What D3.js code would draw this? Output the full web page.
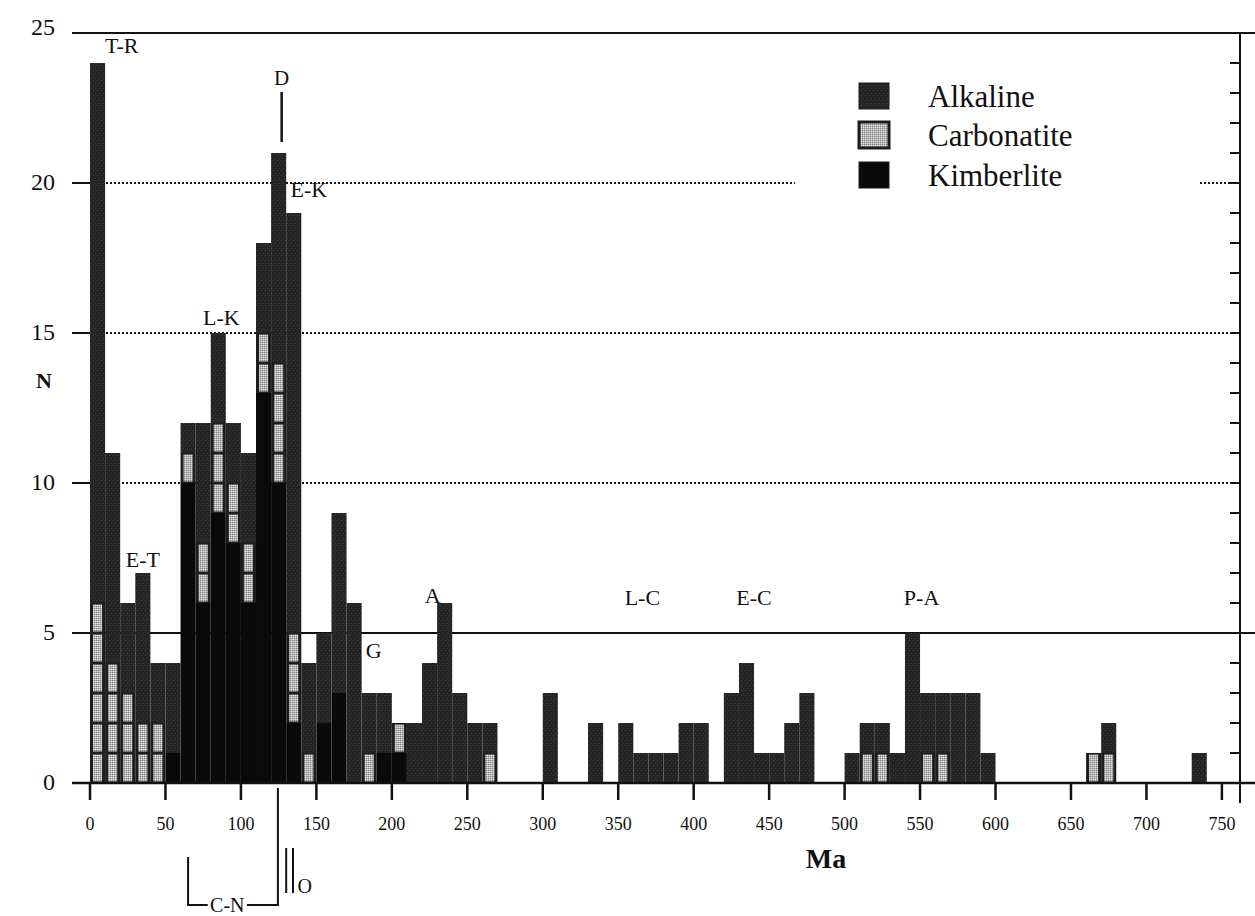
<!DOCTYPE html>
<html>
<head>
<meta charset="utf-8">
<script src="https://cdn.jsdelivr.net/npm/d3@7"></script>
<style>
  html, body { margin: 0; padding: 0; background: #fff; }
  svg { display: block; font-family: "Liberation Serif", "DejaVu Serif", serif; }
</style>
</head>
<body>
<div id="chart"></div>
<script>
// Bins of 10 Ma, from 0 to 740 (value = start of bin)
const binStarts = d3.range(0, 750, 10);

// Counts per bin (10 values per 100 Ma)
const kimberlite = [
  0, 0, 0, 0, 0, 1, 10, 6, 9, 8,
  6, 13, 10, 2, 0, 2, 3, 0, 0, 1,
  1, 0, 0, 0, 0, 0, 0, 0, 0, 0,
  0, 0, 0, 0, 0, 0, 0, 0, 0, 0,
  0, 0, 0, 0, 0, 0, 0, 0, 0, 0,
  0, 0, 0, 0, 0, 0, 0, 0, 0, 0,
  0, 0, 0, 0, 0, 0, 0, 0, 0, 0,
  0, 0, 0, 0, 0
];
const carbonatite = [
  6, 4, 3, 2, 2, 0, 1, 2, 3, 2,
  2, 2, 4, 3, 1, 0, 0, 0, 1, 0,
  1, 0, 0, 0, 0, 0, 1, 0, 0, 0,
  0, 0, 0, 0, 0, 0, 0, 0, 0, 0,
  0, 0, 0, 0, 0, 0, 0, 0, 0, 0,
  0, 1, 1, 0, 0, 1, 1, 0, 0, 0,
  0, 0, 0, 0, 0, 0, 1, 1, 0, 0,
  0, 0, 0, 0, 0
];
const alkaline = [
  18, 7, 3, 5, 2, 3, 1, 4, 3, 2,
  3, 3, 7, 14, 3, 3, 6, 6, 2, 2,
  0, 2, 4, 6, 3, 2, 1, 0, 0, 0,
  3, 0, 0, 2, 0, 2, 1, 1, 1, 2,
  2, 0, 3, 4, 1, 1, 2, 3, 0, 0,
  1, 1, 1, 1, 5, 2, 2, 3, 3, 1,
  0, 0, 0, 0, 0, 0, 0, 1, 0, 0,
  0, 0, 0, 1, 0
];

const xTicks = d3.range(0, 751, 50);
const yTicks = [0, 5, 10, 15, 20, 25];
const legendItems = ['Alkaline', 'Carbonatite', 'Kimberlite'];

// Period labels: [text, Ma position of centre, N position of baseline]
const periods = [
  ['T-R', 21, 24.35],
  ['E-T', 35, 7.2],
  ['L-K', 87, 15.27],
  ['E-K', 145, 19.53],
  ['G', 188, 4.17],
  ['A', 227, 6.0],
  ['L-C', 366, 5.93],
  ['E-C', 440, 5.93],
  ['P-A', 551, 5.93]
];

const width = 1255, height = 916;
const x = d3.scaleLinear().domain([0, 762]).range([90, 1240]);
const y = d3.scaleLinear().domain([0, 25]).range([783, 33]);
const barW = x(10) - x(0);

const svg = d3.select('#chart').append('svg')
  .attr('width', width)
  .attr('height', height);

// Fill patterns (scanned grey textures)
const defs = svg.append('defs');
const alkPat = defs.append('pattern')
  .attr('id', 'alk').attr('width', 4).attr('height', 5)
  .attr('patternUnits', 'userSpaceOnUse');
alkPat.append('rect').attr('width', 4).attr('height', 5).attr('fill', '#242424');
alkPat.append('rect').attr('x', 1).attr('y', 0).attr('width', 1).attr('height', 1).attr('fill', '#444');
alkPat.append('rect').attr('x', 3).attr('y', 3).attr('width', 1).attr('height', 1).attr('fill', '#3c3c3c');

const carbPat = defs.append('pattern')
  .attr('id', 'carb').attr('width', 2).attr('height', 2)
  .attr('patternUnits', 'userSpaceOnUse');
carbPat.append('rect').attr('width', 2).attr('height', 2).attr('fill', '#b8b8b8');
carbPat.append('rect').attr('width', 1).attr('height', 1).attr('fill', '#858585');
carbPat.append('rect').attr('x', 1).attr('y', 1).attr('width', 1).attr('height', 1).attr('fill', '#dedede');

const fills = { Alkaline: 'url(#alk)', Carbonatite: 'url(#carb)', Kimberlite: '#0a0a0a' };

// Horizontal reference lines
const grid = svg.append('g');
function hline(v, x1, x2, dotted, w) {
  grid.append('line')
    .attr('x1', x1).attr('x2', x2)
    .attr('y1', y(v)).attr('y2', y(v))
    .attr('stroke', '#111')
    .attr('stroke-width', w || 2)
    .attr('stroke-dasharray', dotted ? '2,2' : null);
}
hline(25, 72, 1255, false, 2);
hline(5, 72, 1255, false, 2);
[10, 15, 20].forEach(v => {
  hline(v, 72, 90, false, 2);
  if (v === 20) {
    hline(v, 90, 795, true, 2);
    hline(v, 1200, 1240, true, 2);
  } else {
    hline(v, 90, 1240, true, 2);
  }
});

// Stacked bars
const table = binStarts.map((b, i) => ({
  bin: b,
  Kimberlite: kimberlite[i],
  Carbonatite: carbonatite[i],
  Alkaline: alkaline[i]
}));
const stack = d3.stack().keys(['Kimberlite', 'Carbonatite', 'Alkaline']);
const layers = stack(table);

const bars = svg.append('g');
layers.forEach(layer => {
  const key = layer.key;
  layer.forEach(seg => {
    if (seg[1] <= seg[0]) return;
    if (key === 'Carbonatite') {
      // light cells, one per complex, with dark outline
      bars.append('rect')
        .attr('x', x(seg.data.bin))
        .attr('y', y(seg[1]))
        .attr('width', barW)
        .attr('height', y(seg[0]) - y(seg[1]))
        .attr('fill', '#1e1e1e');
      d3.range(seg[0], seg[1]).forEach(u => {
        bars.append('rect')
          .attr('x', x(seg.data.bin) + 3)
          .attr('y', y(u + 1) + 1.5)
          .attr('width', barW - 6)
          .attr('height', y(u) - y(u + 1) - 3)
          .attr('fill', fills[key]);
      });
    } else {
      bars.append('rect')
        .attr('x', x(seg.data.bin))
        .attr('y', y(seg[1]))
        .attr('width', barW)
        .attr('height', y(seg[0]) - y(seg[1]))
        .attr('fill', fills[key]);
    }
  });
});

// Annotation labels
const ann = svg.append('g')
  .attr('font-size', 22)
  .attr('fill', '#111');
periods.forEach(p => {
  ann.append('text')
    .attr('x', x(p[1]))
    .attr('y', y(p[2]))
    .attr('text-anchor', 'middle')
    .text(p[0]);
});

// Baseline
svg.append('line')
  .attr('x1', 72).attr('x2', 1255)
  .attr('y1', y(0)).attr('y2', y(0))
  .attr('stroke', '#111').attr('stroke-width', 2.5);

// Right axis with unit ticks
svg.append('line')
  .attr('x1', 1240).attr('x2', 1240)
  .attr('y1', y(25)).attr('y2', y(0) + 20)
  .attr('stroke', '#111').attr('stroke-width', 2);
svg.append('g').selectAll('line')
  .data(d3.range(1, 25))
  .join('line')
  .attr('x1', 1230).attr('x2', 1240)
  .attr('y1', d => y(d)).attr('y2', d => y(d))
  .attr('stroke', '#111').attr('stroke-width', 2);

// X ticks and labels
const xg = svg.append('g');
xg.selectAll('line')
  .data(xTicks)
  .join('line')
  .attr('x1', d => x(d)).attr('x2', d => x(d))
  .attr('y1', y(0)).attr('y2', y(0) + 17)
  .attr('stroke', '#111').attr('stroke-width', 2.5);
xg.selectAll('text')
  .data(xTicks)
  .join('text')
  .attr('x', d => x(d))
  .attr('y', 830)
  .attr('text-anchor', 'middle')
  .attr('font-size', 18)
  .attr('fill', '#111')
  .text(d => d);

// Y labels
svg.append('g').selectAll('text')
  .data(yTicks)
  .join('text')
  .attr('x', 55)
  .attr('y', d => y(d) + (d === 25 ? 2 : 7))
  .attr('text-anchor', 'end')
  .attr('font-size', 24)
  .attr('fill', '#111')
  .text(d => d);

svg.append('text')
  .attr('x', 44).attr('y', 388)
  .attr('text-anchor', 'middle')
  .attr('font-size', 22).attr('font-weight', 'bold')
  .attr('fill', '#111')
  .text('N');

svg.append('text')
  .attr('x', 826).attr('y', 868)
  .attr('text-anchor', 'middle')
  .attr('font-size', 28).attr('font-weight', 'bold')
  .attr('fill', '#111')
  .text('Ma');

// "D" marker
svg.append('text')
  .attr('x', x(127)).attr('y', 85)
  .attr('text-anchor', 'middle')
  .attr('font-size', 21).attr('fill', '#111')
  .text('D');
svg.append('line')
  .attr('x1', x(127)).attr('x2', x(127))
  .attr('y1', 92).attr('y2', 142)
  .attr('stroke', '#111').attr('stroke-width', 2.5);

// C-N bracket and O marks below the axis
const br = svg.append('g').attr('stroke', '#111').attr('stroke-width', 2).attr('fill', 'none');
br.append('path')
  .attr('d', `M${x(65)},857 V905 H${x(78)} M${x(104)},905 H${x(124.5)} V788`);
br.append('line').attr('x1', x(130)).attr('x2', x(130)).attr('y1', 848).attr('y2', 893);
br.append('line').attr('x1', x(134.5)).attr('x2', x(134.5)).attr('y1', 848).attr('y2', 893);
svg.append('text')
  .attr('x', x(91)).attr('y', 912)
  .attr('text-anchor', 'middle')
  .attr('font-size', 20).attr('fill', '#111')
  .text('C-N');
svg.append('text')
  .attr('x', x(137.5)).attr('y', 893)
  .attr('font-size', 20).attr('fill', '#111')
  .text('O');

// Legend
const legend = svg.append('g');
legendItems.forEach((name, i) => {
  const ly = [83, 122, 162][i];
  legend.append('rect')
    .attr('x', 859).attr('y', ly)
    .attr('width', 30).attr('height', 26)
    .attr('fill', fills[name])
    .attr('stroke', '#1c1c1c')
    .attr('stroke-width', name === 'Carbonatite' ? 3 : 1);
  legend.append('text')
    .attr('x', 928).attr('y', ly + 24)
    .attr('font-size', 31)
    .attr('fill', '#111')
    .text(name);
});
</script>
</body>
</html>
